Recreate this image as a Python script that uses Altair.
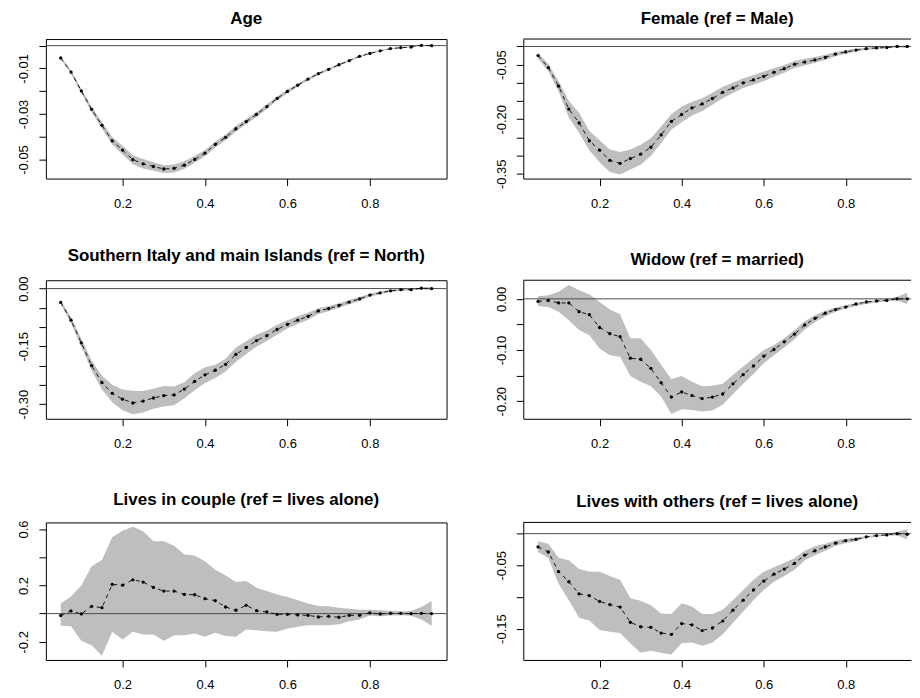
import altair as alt
import pandas as pd

taus = [round(0.05 + 0.025 * i, 3) for i in range(37)]

# ---- Age ----
age_est = [-0.0054, -0.0116, -0.0199, -0.0280, -0.0350, -0.0418, -0.0459, -0.0501, -0.0519, -0.0531,
           -0.0542, -0.0539, -0.0525, -0.0500, -0.0472, -0.0434, -0.0403, -0.0365, -0.0334, -0.0302,
           -0.0268, -0.0232, -0.0201, -0.0174, -0.0147, -0.0123, -0.0104, -0.0084, -0.0066, -0.0047,
           -0.0034, -0.0023, -0.0013, -0.0009, -0.0006, 0.0001, 0.0000]
age_lo = [-0.0060, -0.0124, -0.0209, -0.0292, -0.0364, -0.0434, -0.0478, -0.0521, -0.0540, -0.0550,
          -0.0560, -0.0557, -0.0541, -0.0515, -0.0486, -0.0448, -0.0416, -0.0377, -0.0345, -0.0313,
          -0.0278, -0.0241, -0.0209, -0.0181, -0.0153, -0.0129, -0.0109, -0.0088, -0.0070, -0.0051,
          -0.0037, -0.0026, -0.0016, -0.0011, -0.0008, -0.0001, -0.0003]
age_hi = [-0.0049, -0.0108, -0.0190, -0.0268, -0.0336, -0.0401, -0.0440, -0.0481, -0.0498, -0.0512,
          -0.0525, -0.0522, -0.0508, -0.0485, -0.0458, -0.0421, -0.0390, -0.0353, -0.0322, -0.0291,
          -0.0258, -0.0223, -0.0193, -0.0167, -0.0141, -0.0118, -0.0099, -0.0080, -0.0062, -0.0044,
          -0.0031, -0.0020, -0.0011, -0.0007, -0.0004, 0.0003, 0.0003]

# ---- Female ----
fem_est = [-0.025, -0.058, -0.109, -0.172, -0.210, -0.259, -0.285, -0.313, -0.321, -0.308,
           -0.296, -0.277, -0.243, -0.206, -0.187, -0.169, -0.158, -0.143, -0.126, -0.114,
           -0.100, -0.092, -0.082, -0.071, -0.061, -0.049, -0.043, -0.037, -0.030, -0.021,
           -0.015, -0.010, -0.006, -0.004, -0.003, 0.000, 0.000]
fem_lo = [-0.033, -0.068, -0.123, -0.195, -0.237, -0.285, -0.318, -0.345, -0.352, -0.338,
          -0.325, -0.300, -0.265, -0.228, -0.208, -0.190, -0.177, -0.160, -0.142, -0.128,
          -0.114, -0.105, -0.095, -0.083, -0.072, -0.059, -0.052, -0.045, -0.037, -0.027,
          -0.020, -0.014, -0.010, -0.007, -0.005, -0.003, -0.004]
fem_hi = [-0.018, -0.048, -0.095, -0.150, -0.182, -0.232, -0.258, -0.283, -0.290, -0.283,
          -0.270, -0.252, -0.220, -0.186, -0.165, -0.152, -0.142, -0.127, -0.111, -0.100,
          -0.087, -0.079, -0.069, -0.060, -0.051, -0.040, -0.034, -0.029, -0.023, -0.015,
          -0.010, -0.006, -0.003, -0.001, -0.001, 0.002, 0.003]

# ---- Southern Italy ----
sou_est = [-0.036, -0.082, -0.141, -0.200, -0.244, -0.272, -0.287, -0.297, -0.292, -0.284,
           -0.278, -0.276, -0.261, -0.241, -0.224, -0.212, -0.197, -0.171, -0.153, -0.135,
           -0.122, -0.106, -0.093, -0.082, -0.072, -0.058, -0.052, -0.044, -0.035, -0.027,
           -0.017, -0.011, -0.006, -0.003, -0.003, 0.001, 0.000]
sou_lo = [-0.041, -0.090, -0.151, -0.213, -0.262, -0.295, -0.316, -0.326, -0.322, -0.312,
          -0.306, -0.303, -0.285, -0.264, -0.245, -0.232, -0.215, -0.190, -0.170, -0.151,
          -0.136, -0.119, -0.104, -0.092, -0.081, -0.066, -0.059, -0.050, -0.041, -0.032,
          -0.021, -0.015, -0.009, -0.006, -0.005, -0.002, -0.004]
sou_hi = [-0.031, -0.074, -0.131, -0.187, -0.226, -0.250, -0.262, -0.265, -0.266, -0.260,
          -0.253, -0.254, -0.243, -0.220, -0.204, -0.198, -0.182, -0.153, -0.137, -0.120,
          -0.109, -0.094, -0.082, -0.072, -0.063, -0.051, -0.045, -0.038, -0.030, -0.022,
          -0.013, -0.008, -0.003, -0.001, -0.001, 0.003, 0.004]

# ---- Widow ----
wid_est = [-0.005, -0.003, -0.008, -0.008, -0.025, -0.031, -0.056, -0.068, -0.074, -0.116,
           -0.118, -0.136, -0.164, -0.192, -0.182, -0.189, -0.195, -0.192, -0.186, -0.166,
           -0.148, -0.131, -0.112, -0.099, -0.084, -0.069, -0.051, -0.038, -0.028, -0.021,
           -0.016, -0.010, -0.006, -0.004, -0.003, 0.000, 0.000]
wid_lo = [-0.014, -0.016, -0.025, -0.042, -0.061, -0.071, -0.097, -0.110, -0.113, -0.151,
          -0.162, -0.171, -0.191, -0.225, -0.216, -0.217, -0.220, -0.218, -0.207, -0.186,
          -0.166, -0.147, -0.126, -0.110, -0.095, -0.079, -0.060, -0.045, -0.034, -0.025,
          -0.019, -0.014, -0.010, -0.007, -0.005, -0.003, -0.010]
wid_hi = [0.005, 0.007, 0.014, 0.027, 0.017, 0.009, -0.006, -0.021, -0.030, -0.077,
          -0.077, -0.100, -0.129, -0.157, -0.151, -0.162, -0.171, -0.170, -0.166, -0.149,
          -0.132, -0.116, -0.100, -0.090, -0.077, -0.061, -0.044, -0.032, -0.023, -0.017,
          -0.012, -0.008, -0.005, -0.002, 0.000, 0.004, 0.012]

# ---- Lives in couple ----
cou_est = [-0.014, 0.019, -0.002, 0.052, 0.042, 0.207, 0.202, 0.240, 0.224, 0.186,
           0.160, 0.160, 0.136, 0.134, 0.106, 0.092, 0.047, 0.024, 0.059, 0.021,
           0.012, -0.005, -0.005, -0.009, -0.012, -0.024, -0.019, -0.026, -0.012, -0.012,
           0.005, -0.002, 0.002, 0.002, 0.000, 0.002, 0.000]
cou_lo = [-0.087, -0.089, -0.193, -0.224, -0.299, -0.129, -0.184, -0.129, -0.148, -0.148,
          -0.193, -0.153, -0.153, -0.141, -0.165, -0.136, -0.158, -0.165, -0.113, -0.118,
          -0.125, -0.129, -0.106, -0.094, -0.082, -0.082, -0.082, -0.075, -0.054, -0.042,
          -0.014, -0.019, -0.014, -0.012, -0.016, -0.042, -0.087]
cou_hi = [0.071, 0.122, 0.200, 0.336, 0.381, 0.541, 0.588, 0.616, 0.584, 0.513,
          0.513, 0.482, 0.419, 0.412, 0.372, 0.311, 0.271, 0.224, 0.231, 0.184,
          0.160, 0.136, 0.118, 0.094, 0.071, 0.054, 0.052, 0.042, 0.035, 0.028,
          0.028, 0.024, 0.021, 0.016, 0.019, 0.047, 0.089]

# ---- Lives with others ----
oth_est = [-0.021, -0.029, -0.060, -0.076, -0.095, -0.098, -0.107, -0.112, -0.116, -0.140,
           -0.147, -0.148, -0.157, -0.159, -0.142, -0.144, -0.153, -0.149, -0.138, -0.121,
           -0.105, -0.089, -0.075, -0.064, -0.056, -0.047, -0.034, -0.027, -0.021, -0.015,
           -0.011, -0.009, -0.005, -0.003, -0.002, 0.000, -0.001]
oth_lo = [-0.029, -0.038, -0.079, -0.105, -0.133, -0.137, -0.152, -0.155, -0.157, -0.173,
          -0.188, -0.185, -0.188, -0.191, -0.173, -0.172, -0.177, -0.172, -0.159, -0.141,
          -0.123, -0.105, -0.089, -0.076, -0.067, -0.057, -0.042, -0.034, -0.027, -0.019,
          -0.015, -0.012, -0.007, -0.005, -0.003, -0.003, -0.009]
oth_hi = [-0.012, -0.016, -0.038, -0.042, -0.056, -0.060, -0.060, -0.067, -0.073, -0.102,
          -0.106, -0.113, -0.126, -0.127, -0.110, -0.115, -0.127, -0.127, -0.120, -0.105,
          -0.089, -0.073, -0.060, -0.053, -0.046, -0.039, -0.027, -0.020, -0.016, -0.011,
          -0.008, -0.006, -0.004, -0.002, -0.001, 0.003, 0.007]

titles = ["Age", "Female (ref = Male)", "Southern Italy and main Islands (ref = North)",
          "Widow (ref = married)", "Lives in couple (ref = lives alone)",
          "Lives with others (ref = lives alone)"]

y_domains = [[-0.0584, 0.0029], [-0.363, 0.0204], [-0.338, 0.0216],
             [-0.2344, 0.0364], [-0.329, 0.647], [-0.1995, 0.0177]]
y_ticks = [[0, -0.01, -0.02, -0.03, -0.04, -0.05],
           [0, -0.05, -0.10, -0.15, -0.20, -0.25, -0.30, -0.35],
           [0, -0.05, -0.10, -0.15, -0.20, -0.25, -0.30],
           [0, -0.05, -0.10, -0.15, -0.20],
           [-0.2, 0, 0.2, 0.4, 0.6],
           [0, -0.05, -0.10, -0.15]]
# labelled ticks, as integers in units of 1/scale
y_labels = [[-1, -3, -5], [-5, -20, -35], [0, -15, -30], [0, -10, -20], [-2, 2, 6], [-5, -15]]
y_scales = [100, 100, 100, 100, 10, 100]
y_formats = [".2f", ".2f", ".2f", ".2f", ".1f", ".2f"]
x_ticks = [0.2, 0.4, 0.6, 0.8]
x_domain_left = [0.014, 0.986]
x_domain_right = [0.014, 0.959]   # right column is cut off by the picture edge
zero_line = [0.0]

series = [(age_est, age_lo, age_hi), (fem_est, fem_lo, fem_hi), (sou_est, sou_lo, sou_hi),
          (wid_est, wid_lo, wid_hi), (cou_est, cou_lo, cou_hi), (oth_est, oth_lo, oth_hi)]

FONT = "Liberation Sans"
heights = [140, 139, 138]


def panel(i):
    right = (i % 2 == 1)
    est, lo, hi = series[i]
    df = pd.DataFrame({"tau": taus, "est": est, "lo": lo, "hi": hi})
    zdf = pd.DataFrame({"zero": zero_line})
    xscale = alt.Scale(domain=x_domain_right if right else x_domain_left, nice=False, zero=False)
    xaxis = alt.Axis(values=x_ticks, format=".1f", title=None, grid=False,
                     domain=right, domainColor="black", domainWidth=1,
                     ticks=True, tickSize=7, tickWidth=1, tickColor="black",
                     labelPadding=12, labelFontSize=13, labelFont=FONT, labelColor="black",
                     minExtent=33, maxExtent=33, labelFlush=False, labelOverlap=False)
    sc = y_scales[i]
    lab = "[" + ",".join(str(v) for v in y_labels[i]) + "]"
    expr = (f"indexof({lab}, round(datum.value*{sc})) >= 0 ? "
            f"replace(format(datum.value, '{y_formats[i]}'), '\u2212', '-') : ''")
    yscale = alt.Scale(domain=y_domains[i], nice=False, zero=False)
    yaxis = alt.Axis(values=y_ticks[i], labelExpr=expr, title=None, grid=False,
                     domain=right, domainColor="black", domainWidth=1,
                     ticks=True, tickSize=7, tickWidth=1, tickColor="black",
                     labelPadding=8, labelFontSize=13,
                     labelFont=FONT, labelColor="black", labelAngle=270, labelAlign="center",
                     labelBaseline="bottom", minExtent=37, maxExtent=37, labelFlush=False,
                     labelOverlap=False, labelSeparation=0)
    X = alt.X("tau:Q", scale=xscale, axis=xaxis)
    base = alt.Chart(df)
    band = base.mark_area(color="#BEBEBE", opacity=1, clip=True).encode(
        x=X, y=alt.Y("lo:Q", scale=yscale, axis=yaxis), y2="hi:Q")
    zero = alt.Chart(zdf).mark_rule(color="#4d4d4d", strokeWidth=1, clip=True).encode(
        y=alt.Y("zero:Q", scale=yscale, axis=yaxis))
    line = base.mark_line(color="black", strokeWidth=0.9, strokeDash=[4, 4], clip=True).encode(
        x=X, y=alt.Y("est:Q", scale=yscale, axis=yaxis))
    pts = base.mark_circle(color="black", size=11, opacity=1, clip=True).encode(
        x=X, y=alt.Y("est:Q", scale=yscale, axis=yaxis))
    layers = [band, zero, line, pts]
    if right:
        top = alt.Chart(zdf).mark_rule(color="black", strokeWidth=1).encode(y=alt.value(0))
        layers.append(top)
    ch = alt.layer(*layers).properties(
        width=389 if right else 402, height=heights[i // 2],
        title=alt.TitleParams(titles[i], font=FONT, fontSize=17, fontWeight="bold",
                              color="black", offset=11, anchor="middle"))
    if right:
        ch = ch.properties(view=alt.ViewBackground(stroke=None))
    else:
        ch = ch.properties(view=alt.ViewBackground(stroke="black", strokeWidth=1))
    return ch


rows = []
for r in range(3):
    rows.append(alt.hconcat(panel(2 * r), panel(2 * r + 1), spacing=39))

top_two = alt.vconcat(rows[0], rows[1], spacing=34)
chart = alt.vconcat(top_two, rows[2], spacing=38).properties(padding=0).configure(
    font=FONT, background="white").configure_view(stroke="black", strokeWidth=1)

chart.save("out.html", embed_options={"renderer": "svg", "actions": False})
